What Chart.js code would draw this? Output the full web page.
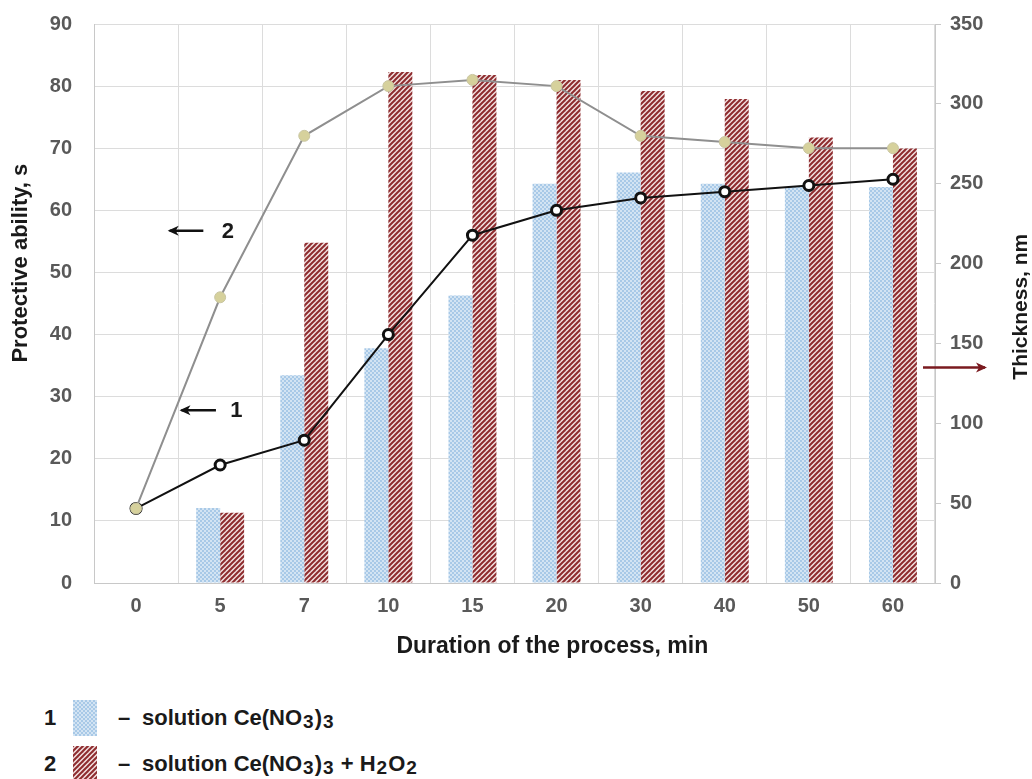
<!DOCTYPE html>
<html>
<head>
<meta charset="utf-8">
<script src="https://cdn.jsdelivr.net/npm/chart.js@4"></script>
<style>
  body { margin: 0; background: #fff; font-family: "Liberation Sans", Arial, sans-serif; }
  #wrap { width: 1032px; height: 665px; position: relative; }
  #legend { position: absolute; left: 0; top: 690px; width: 700px; font-weight: bold; font-size: 22px; color: #1a1a1a; }
  .row { position: absolute; left: 0; height: 36px; width: 700px; }
  .row span { position: absolute; top: 50%; transform: translateY(-50%); white-space: nowrap; }
  .num { left: 44px; }
  .sw { position: absolute; left: 73px; top: 0; width: 24px; height: 36px; }
  .dash { left: 118px; }
  .txt { left: 142px; }
  sub { font-size: 19px; vertical-align: -3px; line-height: 0; margin: 0 1px; }
</style>
</head>
<body>
<div id="wrap"><canvas id="chart" width="1032" height="665"></canvas></div>
<div id="legend">
  <div class="row" style="top:10px"><span class="num">1</span><canvas class="sw" id="sw1" width="24" height="36"></canvas><span class="dash">–</span><span class="txt">solution Ce(NO<sub>3</sub>)<sub>3</sub></span></div>
  <div class="row" style="top:56px"><span class="num">2</span><canvas class="sw" id="sw2" width="24" height="36"></canvas><span class="dash">–</span><span class="txt">solution Ce(NO<sub>3</sub>)<sub>3</sub> + H<sub>2</sub>O<sub>2</sub></span></div>
</div>
<script>
const durations = ["0", "5", "7", "10", "15", "20", "30", "40", "50", "60"];
// thickness, nm (right axis)
const thickness1 = [null, 47, 130, 147, 180, 250, 257, 250, 248, 248];
const thickness2 = [null, 44, 213, 320, 318, 315, 308, 303, 279, 272];
// protective ability, s (left axis)
const protect1 = [12, 19, 23, 40, 56, 60, 62, 63, 64, 65];
const protect2 = [12, 46, 72, 80, 81, 80, 72, 71, 70, 70];

function dotPattern() {
  const c = document.createElement("canvas");
  c.width = 4; c.height = 4;
  const g = c.getContext("2d");
  g.fillStyle = "#d3e4f3";
  g.fillRect(0, 0, 4, 4);
  g.fillStyle = "#a8c9e7";
  g.fillRect(0, 0, 2, 2);
  g.fillRect(2, 2, 2, 2);
  return c;
}
function stripePattern() {
  const c = document.createElement("canvas");
  c.width = 5; c.height = 5;
  const g = c.getContext("2d");
  g.fillStyle = "#f3e3e3";
  g.fillRect(0, 0, 5, 5);
  g.strokeStyle = "#8e2b2e";
  g.lineWidth = 2;
  for (let k = -1; k <= 1; k++) {
    g.beginPath();
    g.moveTo(k * 5 - 1, 6);
    g.lineTo(k * 5 + 6, -1);
    g.stroke();
  }
  return c;
}

const ctx = document.getElementById("chart").getContext("2d");
const blueFill = ctx.createPattern(dotPattern(), "repeat");
const redFill = ctx.createPattern(stripePattern(), "repeat");

["sw1", "sw2"].forEach((id, i) => {
  const g = document.getElementById(id).getContext("2d");
  g.fillStyle = g.createPattern(i ? stripePattern() : dotPattern(), "repeat");
  g.fillRect(0, 0, 24, 36);
});

const arrows = {
  id: "arrows",
  afterDraw(chart) {
    const g = chart.ctx;
    const x = chart.scales.x, y = chart.scales.y, y1 = chart.scales.y1;
    const x0 = x.getPixelForValue(0);
    const step = x.getPixelForValue(1) - x0;
    function arrow(xa, xb, yy, color) {
      g.save();
      g.strokeStyle = color; g.fillStyle = color; g.lineWidth = 2.5;
      g.beginPath(); g.moveTo(xa, yy); g.lineTo(xb, yy); g.stroke();
      const d = xb > xa ? 1 : -1;
      g.beginPath();
      g.moveTo(xb + d * 2, yy);
      g.lineTo(xb - d * 9, yy - 5);
      g.lineTo(xb - d * 6, yy);
      g.lineTo(xb - d * 9, yy + 5);
      g.closePath(); g.fill();
      g.restore();
    }
    g.save();
    g.font = "bold 22px 'Liberation Sans', Arial";
    g.fillStyle = "#1a1a1a";
    g.textBaseline = "middle";
    const a2y = y.getPixelForValue(56.7);
    arrow(x0 + step * 0.8, x0 + step * 0.4, a2y, "#111");
    g.fillText("2", x0 + step * 1.02, a2y + 1);
    const a1y = y.getPixelForValue(27.8);
    arrow(x0 + step * 0.95, x0 + step * 0.54, a1y, "#111");
    g.fillText("1", x0 + step * 1.12, a1y + 1);

    // x axis title
    g.font = "bold 23px 'Liberation Sans', Arial";
    g.textAlign = "center";
    g.fillText("Duration of the process, min", x0 + step * 4.95, x.bottom - 18);

    // vertical axis titles, reading bottom to top
    g.font = "bold 22px 'Liberation Sans', Arial";
    g.translate(21, y.getPixelForValue(51.5));
    g.rotate(-Math.PI / 2);
    g.fillText("Protective ability, s", 0, 0);
    g.restore();
    g.save();
    g.font = "bold 21px 'Liberation Sans', Arial";
    g.fillStyle = "#1a1a1a";
    g.textAlign = "center";
    g.textBaseline = "middle";
    g.translate(chart.width - 11, y1.getPixelForValue(173));
    g.rotate(-Math.PI / 2);
    g.fillText("Thickness, nm", 0, 0);
    g.restore();
    arrow(chart.chartArea.right - 12, chart.chartArea.right + 50, y1.getPixelForValue(135), "#7a1a1f");
  }
};

const tickFont = { family: "'Liberation Sans', Arial", size: 20, weight: "bold" };

new Chart(ctx, {
  type: "bar",
  data: {
    labels: durations,
    datasets: [
      { type: "line", data: protect2, yAxisID: "y", order: 0, borderColor: "#8f8f8f", borderWidth: 2,
        pointRadius: 5.5, pointBackgroundColor: "#d6d19c", pointBorderColor: "#c9c6a2", pointBorderWidth: 1, tension: 0 },
      { type: "line", data: protect1, yAxisID: "y", order: 0, borderColor: "#111", borderWidth: 2,
        pointRadius: 5, pointBackgroundColor: "#fff", pointBorderColor: "#111", pointBorderWidth: 3, tension: 0 },
      { data: thickness1, yAxisID: "y1", order: 1, backgroundColor: blueFill,
        categoryPercentage: 0.57, barPercentage: 1.0 },
      { data: thickness2, yAxisID: "y1", order: 1, backgroundColor: redFill,
        categoryPercentage: 0.57, barPercentage: 1.0 }
    ]
  },
  options: {
    responsive: false,
    animation: false,
    layout: { padding: { top: 24, left: 0, right: 0, bottom: 0 } },
    plugins: { legend: { display: false }, tooltip: { enabled: false } },
    scales: {
      x: {
        grid: { color: "#dcdcdc", offset: true, drawTicks: false },
        border: { color: "#c8c8c8" },
        ticks: { color: "#595959", font: tickFont, padding: 11 },
        afterFit: s => { s.height = 82; }
      },
      y: {
        position: "left", min: 0, max: 90,
        ticks: { stepSize: 10, color: "#595959", font: tickFont, padding: 9 },
        grid: { color: "#dcdcdc", tickColor: "rgba(0,0,0,0)", tickLength: 13 },
        border: { color: "#c8c8c8" },
        afterFit: s => { s.width = 94; }
      },
      y1: {
        position: "right", min: 0, max: 350,
        ticks: { stepSize: 50, color: "#595959", font: tickFont, padding: 9 },
        grid: { drawOnChartArea: false, color: "#c8c8c8", tickLength: 6 },
        border: { color: "#c8c8c8" },
        afterFit: s => { s.width = 97; }
      }
    }
  },
  plugins: [arrows]
});
</script>
</body>
</html>
